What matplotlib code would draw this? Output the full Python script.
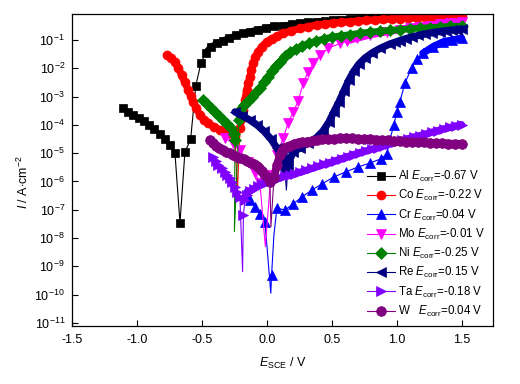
import numpy as np
import matplotlib
matplotlib.use("Agg")
import matplotlib.pyplot as plt
from matplotlib.ticker import LogLocator, NullLocator, FormatStrFormatter

plt.rcParams["font.family"] = ["Liberation Sans", "DejaVu Sans"]
plt.rcParams["mathtext.fontset"] = "custom"
plt.rcParams["mathtext.rm"] = "Liberation Sans"
plt.rcParams["mathtext.it"] = "Liberation Sans:italic"
plt.rcParams["mathtext.sf"] = "Liberation Sans"
plt.rcParams["axes.unicode_minus"] = False
plt.rcParams["font.size"] = 9

# potentials in V vs SCE, currents as log10(I / A cm^-2)
al_E = [-1.110, -1.069, -1.031, -0.985, -0.946, -0.908, -0.869, -0.823, -0.785, -0.746,
        -0.708, -0.669, -0.631, -0.587, -0.548, -0.508, -0.472, -0.431, -0.387, -0.341,
        -0.292, -0.238, -0.185, -0.131, -0.069, -0.008, 0.054, 0.123, 0.192, 0.254,
        0.315, 0.385, 0.446, 0.508, 0.569, 0.638, 0.700, 0.762, 0.831, 0.892,
        0.962, 1.023, 1.085, 1.154, 1.215, 1.277, 1.338, 1.400, 1.454, 1.498]
al_logI = [-3.41, -3.53, -3.64, -3.76, -3.86, -4.00, -4.14, -4.32, -4.50, -4.71,
           -4.98, -7.46, -4.96, -4.51, -2.63, -1.82, -1.45, -1.24, -1.12, -1.02,
           -0.93, -0.84, -0.77, -0.70, -0.63, -0.58, -0.52, -0.49, -0.45, -0.41,
           -0.38, -0.35, -0.33, -0.30, -0.28, -0.27, -0.24, -0.22, -0.20, -0.19,
           -0.17, -0.16, -0.14, -0.13, -0.12, -0.11, -0.10, -0.09, -0.09, -0.08]

co_E = [-0.772, -0.738, -0.708, -0.681, -0.656, -0.631, -0.605, -0.585, -0.567, -0.542,
        -0.515, -0.485, -0.452, -0.408, -0.362, -0.323, -0.285, -0.246, -0.227, -0.208,
        -0.192, -0.181, -0.169, -0.156, -0.142, -0.131, -0.119, -0.105, -0.088, -0.067,
        -0.038, -0.002, 0.038, 0.081, 0.125, 0.185, 0.254, 0.315, 0.382, 0.446,
        0.508, 0.569, 0.638, 0.700, 0.762, 0.831, 0.892, 0.962, 1.023, 1.085,
        1.154, 1.215, 1.277, 1.338, 1.400, 1.454, 1.498]
co_logI = [-1.53, -1.64, -1.78, -1.99, -2.24, -2.50, -2.77, -2.98, -3.18, -3.42,
           -3.65, -3.81, -3.94, -4.07, -4.18, -4.25, -4.30, -4.39, -6.37, -4.11,
           -3.76, -3.47, -3.12, -2.77, -2.52, -2.30, -2.06, -1.82, -1.60, -1.41,
           -1.23, -1.06, -0.95, -0.86, -0.76, -0.68, -0.59, -0.53, -0.47, -0.44,
           -0.40, -0.38, -0.35, -0.33, -0.31, -0.29, -0.27, -0.26, -0.24, -0.23,
           -0.22, -0.20, -0.19, -0.19, -0.18, -0.17, -0.17]

cr_E = [-0.169, -0.131, -0.092, -0.054, -0.015, 0.030, 0.036, 0.054, 0.077, 0.138,
        0.200, 0.269, 0.346, 0.423, 0.515, 0.608, 0.700, 0.792, 0.877, 0.923,
        0.946, 0.977, 1.000, 1.023, 1.062, 1.113, 1.154, 1.200, 1.277, 1.354,
        1.423, 1.498]
cr_logI = [-6.42, -6.65, -6.90, -7.15, -7.43, -9.95, -9.30, -7.89, -6.94, -7.01,
           -6.80, -6.55, -6.30, -6.09, -5.84, -5.66, -5.49, -5.35, -5.20, -5.03,
           -4.53, -4.00, -3.54, -3.19, -2.53, -1.99, -1.67, -1.47, -1.24, -1.07,
           -1.00, -0.94]

mo_E = [-0.323, -0.262, -0.208, -0.146, -0.092, -0.054, -0.012, 0.031, 0.077, 0.125,
        0.164, 0.202, 0.241, 0.279, 0.318, 0.356, 0.408, 0.472, 0.562, 0.620,
        0.690, 0.792, 0.921, 1.023, 1.100, 1.177, 1.254, 1.331, 1.408, 1.500]
mo_logI = [-4.47, -4.64, -4.89, -5.30, -5.70, -6.05, -8.30, -5.77, -5.06, -4.47,
           -3.93, -3.54, -3.16, -2.53, -2.12, -1.82, -1.53, -1.29, -1.12, -1.02,
           -0.94, -0.82, -0.71, -0.63, -0.58, -0.53, -0.49, -0.45, -0.40, -0.35]

ni_E = [-0.490, -0.462, -0.431, -0.400, -0.369, -0.338, -0.308, -0.277, -0.254, -0.246,
        -0.250, -0.215, -0.208, -0.177, -0.146, -0.115, -0.085, -0.054, -0.023, 0.008,
        0.038, 0.069, 0.100, 0.138, 0.177, 0.223, 0.269, 0.323, 0.377, 0.438,
        0.500, 0.569, 0.638, 0.715, 0.792, 0.869, 0.946, 1.023, 1.100, 1.177,
        1.254, 1.331, 1.408, 1.498]
ni_logI = [-3.12, -3.26, -3.40, -3.54, -3.69, -3.83, -3.97, -4.11, -4.32, -4.53,
           -7.77, -3.83, -3.47, -3.30, -3.14, -3.00, -2.84, -2.68, -2.48, -2.29,
           -2.10, -1.92, -1.76, -1.58, -1.44, -1.32, -1.21, -1.12, -1.04, -0.96,
           -0.90, -0.85, -0.81, -0.76, -0.72, -0.69, -0.66, -0.63, -0.60, -0.58,
           -0.56, -0.54, -0.52, -0.51]

re_E = [-0.246, -0.192, -0.131, -0.077, -0.023, 0.031, 0.077, 0.115, 0.138, 0.150,
        0.162, 0.200, 0.254, 0.315, 0.382, 0.431, 0.477, 0.515, 0.554, 0.592,
        0.631, 0.669, 0.708, 0.754, 0.808, 0.869, 0.946, 0.985, 1.023, 1.070,
        1.115, 1.165, 1.215, 1.270, 1.331, 1.380, 1.423, 1.460, 1.498]
re_logI = [-3.54, -3.67, -3.83, -4.00, -4.22, -4.50, -4.82, -5.17, -5.59, -6.30,
           -5.42, -4.96, -4.82, -4.64, -4.45, -4.22, -3.90, -3.54, -3.19, -2.80,
           -2.41, -2.10, -1.85, -1.64, -1.46, -1.30, -1.14, -1.08, -1.02, -0.95,
           -0.89, -0.84, -0.79, -0.74, -0.70, -0.67, -0.65, -0.63, -0.61]

ta_E = [-0.413, -0.394, -0.375, -0.349, -0.323, -0.304, -0.285, -0.266, -0.246, -0.227,
        -0.208, -0.187, -0.181, -0.169, -0.150, -0.131, -0.100, -0.069, -0.038, -0.008,
        0.027, 0.062, 0.100, 0.138, 0.177, 0.215, 0.258, 0.300, 0.346, 0.392,
        0.438, 0.485, 0.531, 0.577, 0.623, 0.669, 0.715, 0.762, 0.808, 0.854,
        0.900, 0.946, 0.992, 1.038, 1.085, 1.131, 1.177, 1.223, 1.269, 1.315,
        1.362, 1.408, 1.454, 1.498]
ta_logI = [-5.12, -5.27, -5.42, -5.54, -5.65, -5.77, -5.89, -6.03, -6.18, -6.36,
           -6.54, -9.19, -7.18, -6.65, -6.48, -6.34, -6.25, -6.16, -6.10, -6.04,
           -5.98, -5.93, -5.87, -5.82, -5.78, -5.73, -5.67, -5.61, -5.54, -5.47,
           -5.40, -5.33, -5.26, -5.19, -5.12, -5.05, -4.98, -4.92, -4.86, -4.80,
           -4.73, -4.67, -4.61, -4.55, -4.49, -4.43, -4.38, -4.32, -4.26, -4.20,
           -4.14, -4.09, -4.04, -3.99]

w_E = [-0.438, -0.415, -0.392, -0.365, -0.338, -0.311, -0.285, -0.258, -0.231, -0.204,
       -0.177, -0.150, -0.123, -0.100, -0.077, -0.058, -0.038, -0.019, 0.000, 0.023,
       0.031, 0.054, 0.077, 0.100, 0.115, 0.131, 0.154, 0.177, 0.208, 0.238,
       0.273, 0.308, 0.346, 0.385, 0.427, 0.469, 0.515, 0.562, 0.608, 0.654,
       0.700, 0.746, 0.792, 0.838, 0.885, 0.931, 0.977, 1.023, 1.069, 1.115,
       1.162, 1.208, 1.254, 1.300, 1.346, 1.392, 1.446, 1.498]
w_logI = [-4.53, -4.65, -4.75, -4.83, -4.89, -4.95, -5.01, -5.07, -5.12, -5.17,
          -5.22, -5.27, -5.33, -5.39, -5.45, -5.53, -5.63, -5.73, -5.84, -6.02,
          -7.60, -5.88, -5.42, -5.06, -4.93, -4.83, -4.77, -4.73, -4.68, -4.64,
          -4.61, -4.59, -4.56, -4.53, -4.51, -4.50, -4.49, -4.48, -4.48, -4.48,
          -4.49, -4.50, -4.51, -4.52, -4.53, -4.55, -4.56, -4.57, -4.59, -4.60,
          -4.61, -4.62, -4.63, -4.64, -4.65, -4.66, -4.67, -4.67]

metals = ["Al", "Co", "Cr", "Mo", "Ni", "Re", "Ta", "W"]
e_corr = [-0.67, -0.22, 0.04, -0.01, -0.25, 0.15, -0.18, 0.04]

# skip: points on the thin E_corr spikes (no symbol)
# band_from: from this index on the symbols are packed so tight they read as a band
series = [
    (al_E, al_logI, [], 16, "black", "s", 5.5),
    (co_E, co_logI, [18], 0, "#ff0000", "o", 6.5),
    (cr_E, cr_logI, [5, 7], 27, "#0000ff", "^", 6.5),
    (mo_E, mo_logI, [6], 19, "#ff00ff", "v", 6.5),
    (ni_E, ni_logI, [10], 0, "#008000", "D", 6),
    (re_E, re_logI, [9], 0, "#000080", "<", 6.5),
    (ta_E, ta_logI, [11], 15, "#8000ff", ">", 6.5),
    (w_E, w_logI, [20], 0, "#800080", "o", 7),
]

fig = plt.figure(figsize=(5.2, 3.84), dpi=100)
ax = fig.add_axes([72 / 520, 58 / 384, 421 / 520, 312 / 384])

for name, ec, (E, logi, skip, band_from, color, marker, ms) in zip(metals, e_corr, series):
    I = 10.0 ** np.array(logi)
    keep = [i for i in range(len(E)) if i not in skip]
    band = I.copy()
    band[:band_from] = np.nan
    band[skip] = np.nan
    ax.plot(E, band, "-", color=color, lw=ms * 0.8,
            solid_capstyle="round", solid_joinstyle="round")
    tag = "W  " if name == "W" else name
    label = f"{tag} $E_{{\\mathrm{{corr}}}}$={ec:.2f} V"
    ax.plot(E, I, "-", color=color, lw=0.8,
            marker=marker, ms=ms, markevery=keep, mfc=color, mec=color, mew=0.5,
            label=label)

ax.set_yscale("log")
ax.set_xlim(-1.5, 1.74)
ax.set_ylim(7.8e-12, 0.83)
ax.set_xticks([-1.5, -1.0, -0.5, 0.0, 0.5, 1.0, 1.5])
ax.xaxis.set_major_formatter(FormatStrFormatter("%.1f"))
ax.yaxis.set_major_locator(LogLocator(base=10, numticks=20))
ax.yaxis.set_minor_locator(NullLocator())
ax.tick_params(axis="x", direction="in", length=4, width=0.8, top=False,
               labelsize=9, pad=6)
ax.tick_params(axis="y", direction="in", length=4, width=0.8, right=False,
               labelsize=9, pad=5)
for s in ax.spines.values():
    s.set_linewidth(0.9)

ax.set_xlabel("$E_{\\mathrm{SCE}}$ / V", fontsize=9)
ax.set_ylabel("$I$ / A$\\cdot$cm$^{-2}$", fontsize=9)
ax.xaxis.set_label_coords(0.5, -(356 - 326) / 312)
ax.yaxis.set_label_coords(-(72 - 31) / 421, 1 - (182 - 14) / 312)

ax.legend(loc="upper left", bbox_to_anchor=(367 / 520, 1 - 169 / 384),
          bbox_transform=fig.transFigure, frameon=False, fontsize=8.3,
          numpoints=1, handlelength=2.4, handletextpad=0.3, labelspacing=0.36,
          borderpad=0, borderaxespad=0)

fig.savefig("out.png", dpi=100)
